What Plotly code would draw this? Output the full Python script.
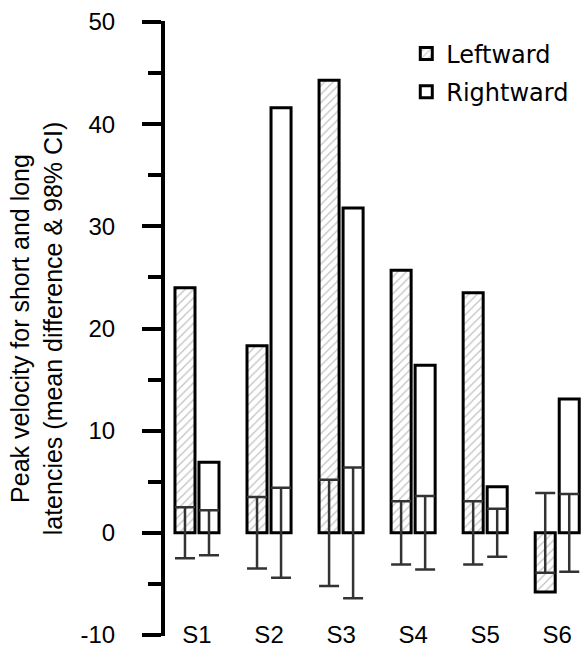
import numpy as np
import plotly.graph_objects as go

categories = ["S1", "S2", "S3", "S4", "S5", "S6"]
leftward = [24.0, 18.3, 44.3, 25.7, 23.5, -5.8]
rightward = [6.9, 41.6, 31.8, 16.4, 4.5, 13.1]
left_ci = [2.5, 3.5, 5.2, 3.1, 3.1, 3.9]
right_ci = [2.2, 4.4, 6.4, 3.6, 2.35, 3.8]
y_ticks = [-10, 0, 10, 20, 30, 40, 50]
y_tick_labels = [str(v) for v in y_ticks]

pos = np.arange(1, len(categories) + 1)
off = 1 / 6
bw = 0.278

fig = go.Figure()
fig.add_trace(go.Bar(
    x=pos - off, y=leftward, width=bw, name="Leftward", legendgroup="a",
    marker=dict(color="white", line=dict(color="black", width=3),
                pattern=dict(shape="/", fgcolor="#888", bgcolor="white", size=6, solidity=0.22)),
))
fig.add_trace(go.Bar(
    x=pos + off, y=rightward, width=bw, name="Rightward", legendgroup="b",
    marker=dict(color="white", line=dict(color="black", width=3)),
))
for xs, ci in [(pos - off, left_ci), (pos + off, right_ci)]:
    fig.add_trace(go.Scatter(
        x=xs, y=[0] * len(ci), mode="markers", showlegend=False, hoverinfo="skip",
        marker=dict(size=1, color="rgba(0,0,0,0)"),
        error_y=dict(type="data", array=ci, symmetric=True, width=10,
                     thickness=2.5, color="#333"),
    ))

fig.update_layout(
    width=581, height=648,
    margin=dict(l=165, r=0, t=21, b=12),
    paper_bgcolor="white", plot_bgcolor="white",
    barmode="overlay",
    font=dict(family="Liberation Sans, Arial, sans-serif", size=24, color="black"),
    legend=dict(x=0.58, y=0.983, xanchor="left", yanchor="top",
                font=dict(family="DejaVu Sans", size=24, color="black"),
                tracegroupgap=4, traceorder="grouped", bgcolor="rgba(0,0,0,0)"),
    xaxis=dict(range=[0.556, 6.33], tickvals=pos, ticktext=categories,
               showline=False, showgrid=False, zeroline=False, ticks="",
               anchor="free", position=0.03, tickfont=dict(size=24),
               ticklabeloverflow="allow"),
    yaxis=dict(range=[-10.1, 50.1], tickvals=y_ticks, ticktext=y_tick_labels,
               showgrid=False, zeroline=False,
               showline=True, linewidth=4, linecolor="black",
               ticks="outside", ticklen=19, tickwidth=4, tickcolor="black",
               ticklabelstandoff=22, ticklabeloverflow="allow",
               minor=dict(dtick=5, ticks="outside", ticklen=13, tickwidth=4, tickcolor="black"),
               title=dict(text="Peak velocity for short and long<br>latencies (mean difference & 98% CI)",
                          font=dict(size=25), standoff=12)),
)

fig.write_html("out.html", config={"displayModeBar": False},
               post_script="document.body.style.margin='0';")
